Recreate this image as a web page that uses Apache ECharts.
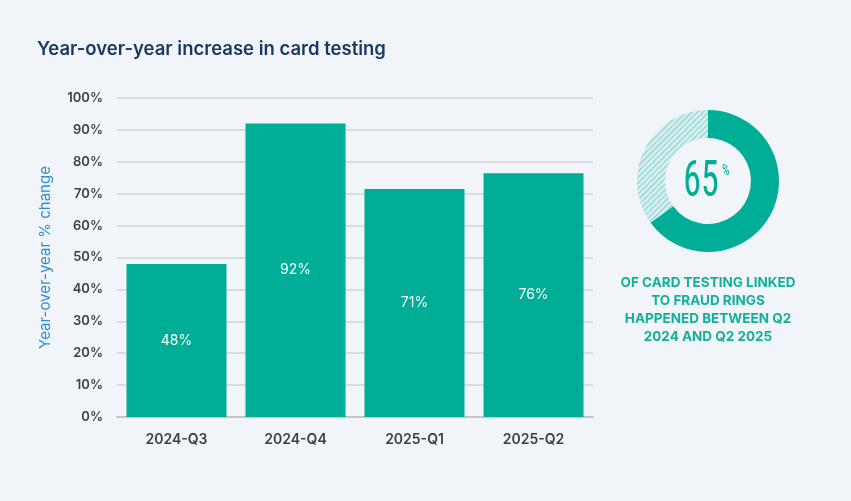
<!DOCTYPE html>
<html>
<head>
<meta charset="utf-8">
<script src="https://cdn.jsdelivr.net/npm/echarts@6/dist/echarts.min.js"></script>
<style>
	html, body { margin: 0; padding: 0; background: #f1f4f9; }
	#chart { width: 851px; height: 501px; }
</style>
</head>
<body>
<div id="chart"></div>
<script>
var quarters = ['2024-Q3', '2024-Q4', '2025-Q1', '2025-Q2'];
var increase = [48, 92, 71.5, 76.4];
var increaseLabels = ['48%', '92%', '71%', '76%'];
var yTicks = [0, 10, 20, 30, 40, 50, 60, 70, 80, 90, 100];
var ringShare = [65, 35];
var ringText = ['OF CARD TESTING LINKED', 'TO FRAUD RINGS', 'HAPPENED BETWEEN Q2', '2024 AND Q2 2025'];

var teal = '#00ae98';
var font = 'Inter, Lato, sans-serif';
var narrow = '"Roboto Condensed", "Liberation Sans Narrow", Roboto, sans-serif';

var myChart = echarts.init(document.getElementById('chart'));

var option = {
	backgroundColor: '#f1f4f9',
	animation: false,
	title: {
		text: 'Year-over-year increase in card testing',
		left: 32,
		top: 35,
		textStyle: {
			color: '#163a5f',
			fontFamily: font,
			fontWeight: 600,
			fontSize: 18.5
		}
	},
	grid: {
		left: 117,
		right: 258,
		top: 98,
		bottom: 84
	},
	xAxis: {
		type: 'category',
		data: quarters,
		axisTick: { show: false },
		axisLine: { lineStyle: { color: '#c4c6cb', width: 2 } },
		axisLabel: {
			margin: 16,
			color: '#3d3f44',
			fontFamily: font,
			fontWeight: 600,
			fontSize: 14
		}
	},
	yAxis: {
		type: 'value',
		min: yTicks[0],
		max: yTicks[yTicks.length - 1],
		interval: 10,
		name: 'Year-over-year % change',
		nameLocation: 'middle',
		nameGap: 64,
		nameTextStyle: {
			color: '#2b8ed6',
			fontFamily: font,
			fontSize: 15
		},
		axisLabel: {
			margin: 14,
			color: '#3d3f44',
			fontFamily: font,
			fontWeight: 600,
			fontSize: 13,
			formatter: '{value}%'
		},
		splitLine: { lineStyle: { color: '#d9dce1', width: 2 } }
	},
	series: [{
		name: 'increase',
		type: 'bar',
		data: increase,
		barWidth: 100,
		itemStyle: { color: teal },
		label: {
			show: true,
			position: 'inside',
			color: '#ffffff',
			fontFamily: font,
			fontSize: 14,
			formatter: function (p) {
				return increaseLabels[p.dataIndex];
			}
		}
	}, {
		name: 'share',
		type: 'pie',
		center: [708, 181],
		radius: [43, 71],
		startAngle: 90,
		clockwise: true,
		silent: true,
		label: { show: false },
		labelLine: { show: false },
		data: [{
			value: ringShare[0],
			itemStyle: { color: teal }
		}, {
			value: ringShare[1],
			itemStyle: {
				color: 'rgba(0,174,152,0.10)',
				decal: {
					symbol: 'rect',
					symbolSize: 1,
					color: 'rgba(0,174,152,0.4)',
					dashArrayX: [1, 0],
					dashArrayY: [1, 3],
					rotation: -Math.PI / 4
				}
			}
		}]
	}],
	graphic: [{
		type: 'text',
		x: 701,
		y: 183,
		scaleX: 0.72,
		style: {
			text: ringShare[0] + '',
			fill: teal,
			align: 'center',
			verticalAlign: 'middle',
			font: '50px ' + narrow
		}
	}, {
		type: 'text',
		x: 722,
		y: 164,
		scaleX: 0.8,
		style: {
			text: '%',
			fill: teal,
			align: 'left',
			verticalAlign: 'top',
			font: '15px ' + narrow
		}
	}, {
		type: 'text',
		x: 708,
		y: 274,
		style: {
			text: ringText.join('\n'),
			align: 'center',
			verticalAlign: 'top',
			fill: '#14b09a',
			font: 'bold 13.5px ' + font,
			lineHeight: 18
		}
	}]
};
myChart.setOption(option);
</script>
</body>
</html>
